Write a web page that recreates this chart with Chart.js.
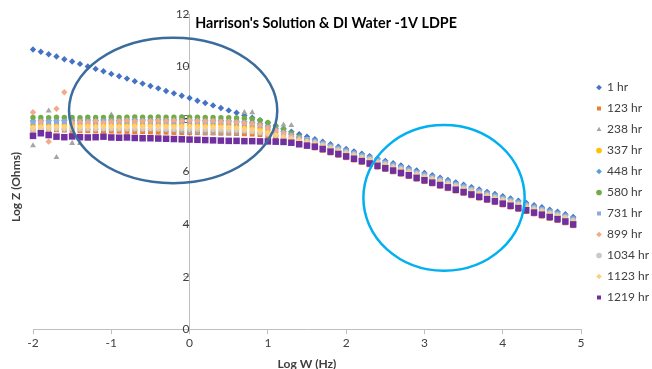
<!DOCTYPE html>
<html lang="en">
<head>
  <meta charset="UTF-8" />
  <title>Harrison's Solution &amp; DI Water -1V LDPE</title>
  <script src="https://cdn.jsdelivr.net/npm/chart.js"></script>
  <style>
    html, body { margin: 0; padding: 0; background: #fff; }
    .wrap { position: relative; width: 652px; height: 369px; }
  </style>
</head>
<body>
<div class="wrap"><canvas id="eisChart"></canvas></div>

<script>
  // log of frequency (x values shared by every series)
  const logW = [
    -2.0, -1.9, -1.8, -1.7, -1.6, -1.5, -1.4, -1.3, -1.2, -1.1,
    -1.0, -0.9, -0.8, -0.7, -0.6, -0.5, -0.4, -0.3, -0.2, -0.1,
     0.0,  0.1,  0.2,  0.3,  0.4,  0.5,  0.6,  0.7,  0.8,  0.9,
     1.0,  1.1,  1.2,  1.3,  1.4,  1.5,  1.6,  1.7,  1.8,  1.9,
     2.0,  2.1,  2.2,  2.3,  2.4,  2.5,  2.6,  2.7,  2.8,  2.9,
     3.0,  3.1,  3.2,  3.3,  3.4,  3.5,  3.6,  3.7,  3.8,  3.9,
     4.0,  4.1,  4.2,  4.3,  4.4,  4.5,  4.6,  4.7,  4.8,  4.9
  ];

  const hoursLabels = ['1 hr', '123 hr', '238 hr', '337 hr', '448 hr', '580 hr',
                       '731 hr', '899 hr', '1034 hr', '1123 hr', '1219 hr'];

  // log Z (Ohms) for each exposure time
  const z1hr = [
    10.65, 10.56, 10.47, 10.38, 10.28, 10.19, 10.10, 10.00, 9.91, 9.82,
    9.72, 9.63, 9.54, 9.44, 9.35, 9.26, 9.17, 9.07, 8.98, 8.89,
    8.80, 8.70, 8.61, 8.52, 8.42, 8.33, 8.24, 8.14, 8.05, 7.96,
    7.86, 7.74, 7.63, 7.52, 7.42, 7.33, 7.23, 7.14, 7.04, 6.95,
    6.86, 6.77, 6.68, 6.59, 6.50, 6.41, 6.32, 6.23, 6.14, 6.04,
    5.95, 5.86, 5.77, 5.68, 5.59, 5.50, 5.41, 5.32, 5.23, 5.15,
    5.06, 4.98, 4.89, 4.81, 4.72, 4.64, 4.55, 4.47, 4.38, 4.27
  ];
  const z123hr = [
    7.58, 7.60, 7.59, 7.59, 7.58, 7.57, 7.56, 7.56, 7.55, 7.55,
    7.54, 7.54, 7.53, 7.52, 7.52, 7.51, 7.50, 7.50, 7.49, 7.48,
    7.48, 7.48, 7.47, 7.47, 7.46, 7.46, 7.45, 7.44, 7.43, 7.41,
    7.37, 7.32, 7.24, 7.15, 7.06, 6.98, 6.90, 6.81, 6.71, 6.62,
    6.53, 6.44, 6.35, 6.26, 6.17, 6.08, 5.99, 5.90, 5.81, 5.71,
    5.62, 5.53, 5.44, 5.35, 5.26, 5.17, 5.08, 4.99, 4.90, 4.82,
    4.73, 4.65, 4.56, 4.48, 4.39, 4.30, 4.22, 4.14, 4.05, 3.94
  ];
  const z238hr = [
    6.99, 7.70, 8.31, 6.54, 7.68, 7.08, 7.08, 7.66, 7.67, 7.68,
    8.16, 7.66, 7.64, 7.62, 7.60, 7.62, 7.22, 7.56, 7.55, 7.52,
    7.50, 7.48, 7.47, 7.46, 7.47, 7.46, 7.45, 8.25, 8.25, 7.50,
    7.45, 7.40, 7.78, 7.76, 7.32, 7.21, 7.13, 7.04, 6.94, 6.85,
    6.76, 6.67, 6.58, 6.49, 6.40, 6.31, 6.22, 6.13, 6.04, 5.94,
    5.85, 5.76, 5.67, 5.58, 5.49, 5.40, 5.31, 5.22, 5.13, 5.05,
    4.96, 4.88, 4.79, 4.71, 4.62, 4.54, 4.45, 4.37, 4.28, 4.17
  ];
  const z337hr = [
    7.76, 7.78, 7.77, 7.78, 7.79, 7.78, 7.79, 7.78, 7.79, 7.79,
    7.80, 7.79, 7.80, 7.80, 7.79, 7.80, 7.80, 7.80, 7.79, 7.80,
    7.80, 7.79, 7.79, 7.78, 7.78, 7.77, 7.75, 7.72, 7.69, 7.64,
    7.56, 7.47, 7.37, 7.27, 7.17, 7.10, 7.03, 6.94, 6.84, 6.75,
    6.66, 6.57, 6.48, 6.39, 6.30, 6.21, 6.12, 6.03, 5.94, 5.84,
    5.75, 5.66, 5.57, 5.48, 5.39, 5.30, 5.21, 5.12, 5.03, 4.95,
    4.86, 4.78, 4.69, 4.61, 4.52, 4.44, 4.35, 4.27, 4.18, 4.07
  ];
  const z448hr = [
    7.93, 7.95, 7.94, 7.95, 7.95, 7.94, 7.95, 7.96, 7.95, 7.96,
    7.96, 7.95, 7.96, 7.97, 7.96, 7.96, 7.97, 7.96, 7.96, 7.97,
    7.96, 7.96, 7.95, 7.95, 7.94, 7.93, 7.92, 7.90, 7.87, 7.82,
    7.74, 7.64, 7.53, 7.42, 7.31, 7.24, 7.18, 7.09, 6.99, 6.90,
    6.81, 6.72, 6.63, 6.54, 6.45, 6.36, 6.27, 6.18, 6.09, 5.99,
    5.90, 5.81, 5.72, 5.63, 5.54, 5.45, 5.36, 5.27, 5.18, 5.10,
    5.01, 4.93, 4.84, 4.76, 4.67, 4.59, 4.50, 4.42, 4.33, 4.22
  ];
  const z580hr = [
    8.06, 8.06, 8.05, 8.07, 8.06, 8.06, 8.05, 8.07, 8.06, 8.06,
    8.07, 8.06, 8.07, 8.08, 8.07, 8.07, 8.08, 8.07, 8.07, 8.08,
    8.07, 8.07, 8.06, 8.06, 8.05, 8.05, 8.04, 8.03, 8.00, 7.95,
    7.86, 7.74, 7.60, 7.46, 7.33, 7.21, 7.11, 7.02, 6.92, 6.83,
    6.74, 6.65, 6.56, 6.47, 6.38, 6.29, 6.20, 6.11, 6.02, 5.92,
    5.83, 5.74, 5.65, 5.56, 5.47, 5.38, 5.29, 5.20, 5.11, 5.03,
    4.94, 4.86, 4.77, 4.69, 4.60, 4.52, 4.43, 4.35, 4.26, 4.15
  ];
  const z731hr = [
    7.88, 7.90, 7.89, 7.90, 7.91, 7.90, 7.90, 7.91, 7.90, 7.92,
    7.92, 7.91, 7.92, 7.93, 7.92, 7.92, 7.92, 7.92, 7.91, 7.92,
    7.92, 7.91, 7.90, 7.90, 7.89, 7.88, 7.86, 7.84, 7.81, 7.76,
    7.68, 7.58, 7.48, 7.38, 7.28, 7.22, 7.15, 7.06, 6.96, 6.87,
    6.78, 6.69, 6.60, 6.51, 6.42, 6.33, 6.24, 6.15, 6.06, 5.96,
    5.87, 5.78, 5.69, 5.60, 5.51, 5.42, 5.33, 5.24, 5.15, 5.07,
    4.98, 4.90, 4.81, 4.73, 4.64, 4.56, 4.47, 4.39, 4.30, 4.19
  ];
  const z899hr = [
    8.26, 7.90, 7.14, 8.39, 9.02, 7.85, 7.90, 7.88, 7.92, 7.87,
    7.90, 7.92, 7.95, 7.91, 7.93, 7.92, 7.94, 7.93, 7.95, 7.93,
    7.95, 7.93, 7.92, 7.93, 7.90, 7.90, 7.88, 7.85, 7.82, 7.76,
    7.67, 7.57, 7.46, 7.35, 7.25, 7.16, 7.08, 6.99, 6.89, 6.80,
    6.71, 6.62, 6.53, 6.44, 6.35, 6.26, 6.17, 6.08, 5.99, 5.89,
    5.80, 5.71, 5.62, 5.53, 5.44, 5.35, 5.26, 5.17, 5.08, 5.00,
    4.91, 4.83, 4.74, 4.66, 4.57, 4.49, 4.40, 4.32, 4.23, 4.12
  ];
  const z1034hr = [
    7.60, 7.63, 7.62, 7.63, 7.62, 7.63, 7.62, 7.63, 7.62, 7.63,
    7.63, 7.62, 7.63, 7.63, 7.62, 7.63, 7.62, 7.62, 7.61, 7.62,
    7.61, 7.61, 7.60, 7.60, 7.59, 7.58, 7.57, 7.55, 7.52, 7.48,
    7.43, 7.38, 7.32, 7.26, 7.20, 7.15, 7.10, 7.01, 6.91, 6.82,
    6.73, 6.64, 6.55, 6.46, 6.37, 6.28, 6.19, 6.10, 6.01, 5.91,
    5.82, 5.73, 5.64, 5.55, 5.46, 5.37, 5.28, 5.19, 5.10, 5.02,
    4.93, 4.85, 4.76, 4.68, 4.59, 4.51, 4.42, 4.34, 4.25, 4.14
  ];
  const z1123hr = [
    7.66, 7.70, 7.69, 7.70, 7.70, 7.69, 7.70, 7.71, 7.70, 7.71,
    7.71, 7.70, 7.71, 7.72, 7.71, 7.71, 7.71, 7.71, 7.70, 7.71,
    7.71, 7.70, 7.70, 7.69, 7.68, 7.67, 7.65, 7.62, 7.59, 7.54,
    7.47, 7.39, 7.30, 7.23, 7.18, 7.12, 7.05, 6.96, 6.86, 6.77,
    6.68, 6.59, 6.50, 6.41, 6.32, 6.23, 6.14, 6.05, 5.96, 5.86,
    5.77, 5.68, 5.59, 5.50, 5.41, 5.32, 5.23, 5.14, 5.05, 4.97,
    4.88, 4.80, 4.71, 4.63, 4.54, 4.46, 4.37, 4.29, 4.20, 4.09
  ];
  const z1219hr = [
    7.36, 7.46, 7.39, 7.33, 7.31, 7.34, 7.31, 7.30, 7.31, 7.33,
    7.30, 7.29, 7.30, 7.28, 7.27, 7.27, 7.26, 7.25, 7.24, 7.23,
    7.22, 7.21, 7.20, 7.19, 7.18, 7.17, 7.17, 7.16, 7.16, 7.15,
    7.15, 7.14, 7.13, 7.10, 7.04, 6.99, 6.95, 6.86, 6.76, 6.67,
    6.58, 6.49, 6.40, 6.31, 6.22, 6.13, 6.04, 5.95, 5.86, 5.76,
    5.67, 5.58, 5.49, 5.40, 5.31, 5.22, 5.13, 5.04, 4.95, 4.87,
    4.78, 4.70, 4.61, 4.53, 4.44, 4.36, 4.27, 4.19, 4.10, 3.99
  ];

  const yTicks = [0, 2, 4, 6, 8, 10, 12];
  const xTicks = [-2, -1, 0, 1, 2, 3, 4, 5];

  const FONT = 'Lato, "Open Sans", sans-serif';

  function toPoints(values) {
    return values.map((v, i) => ({ x: logW[i], y: v }));
  }

  // marker look per series, same order as hoursLabels
  const markers = [
    { color: '#4472C4', style: 'rectRot',  r: 3.2 },
    { color: '#ED7D31', style: 'rect',     r: 3.5 },
    { color: '#A5A5A5', style: 'triangle', r: 3.4 },
    { color: '#FFC000', style: 'circle',   r: 2.7 },
    { color: '#5B9BD5', style: 'rectRot',  r: 3.2 },
    { color: '#70AD47', style: 'circle',   r: 2.7 },
    { color: '#8EA9DB', style: 'rect',     r: 3.6 },
    { color: '#F4A989', style: 'rectRot',  r: 3.2 },
    { color: '#C9C9C9', style: 'circle',   r: 2.7 },
    { color: '#FFCF80', style: 'rectRot',  r: 3.2 },
    { color: '#7030A0', style: 'rect',     r: 4.6 }
  ];

  const allValues = [z1hr, z123hr, z238hr, z337hr, z448hr, z580hr,
                     z731hr, z899hr, z1034hr, z1123hr, z1219hr];

  const datasets = allValues.map((vals, i) => ({
    label: hoursLabels[i],
    data: toPoints(vals),
    showLine: false,
    pointStyle: markers[i].style,
    pointRadius: markers[i].r,
    pointBackgroundColor: markers[i].color,
    pointBorderColor: markers[i].color,
    pointBorderWidth: 0,
    backgroundColor: markers[i].color,
    borderColor: markers[i].color,
    order: allValues.length - i,   // later series drawn on top, like Excel
    clip: false
  }));

  // hand drawn ellipses + floating texts
  const overlay = {
    id: 'overlay',
    afterLayout(chart) {
      // nudge the legend column a little to the right
      chart.legend.left += 7;
      chart.legend.right += 7;
    },
    afterDatasetsDraw(chart) {
      const { ctx, scales: { x, y } } = chart;
      const rings = [
        { cx: -0.21, cy: 8.33, rx: 1.33, ry: 2.77, color: '#3A6C9C' },
        { cx: 3.25, cy: 5.0, rx: 1.03, ry: 2.77, color: '#00B0F0' }
      ];
      ctx.save();
      ctx.lineWidth = 2.5;
      rings.forEach(r => {
        const px = x.getPixelForValue(r.cx);
        const py = y.getPixelForValue(r.cy);
        const prx = Math.abs(x.getPixelForValue(r.cx + r.rx) - px);
        const pry = Math.abs(y.getPixelForValue(r.cy + r.ry) - py);
        ctx.strokeStyle = r.color;
        ctx.beginPath();
        ctx.ellipse(px, py, prx, pry, 0, 0, Math.PI * 2);
        ctx.stroke();
      });
      ctx.restore();
    },
    afterDraw(chart) {
      const { ctx } = chart;
      ctx.save();
      ctx.fillStyle = '#000';
      ctx.font = 'bold 14.3px ' + FONT;
      ctx.textAlign = 'center';
      ctx.textBaseline = 'middle';
      ctx.fillText("Harrison's Solution & DI Water -1V LDPE", 326, 23);

      ctx.fillStyle = '#404040';
      ctx.font = 'bold 12px ' + FONT;
      ctx.translate(16, 187);
      ctx.rotate(-Math.PI / 2);
      ctx.fillText('Log Z (Ohms)', 0, 0);
      ctx.restore();
    }
  };

  new Chart(document.getElementById('eisChart'), {
    type: 'scatter',
    data: { datasets },
    plugins: [overlay],
    options: {
      responsive: true,
      maintainAspectRatio: false,
      animation: false,
      devicePixelRatio: 1,
      layout: { padding: { left: 33, top: 14, right: 0, bottom: -2 } },
      plugins: {
        legend: {
          position: 'right',
          labels: {
            usePointStyle: true,
            boxWidth: 4,
            boxHeight: 4,
            padding: 9,
            color: '#404040',
            font: { family: FONT, size: 12 },
            sort: (a, b) => a.datasetIndex - b.datasetIndex
          }
        },
        tooltip: { enabled: false }
      },
      scales: {
        x: {
          type: 'linear',
          min: xTicks[0],
          max: xTicks[xTicks.length - 1],
          afterBuildTicks: axis => { axis.ticks = xTicks.map(v => ({ value: v })); },
          ticks: { color: '#404040', font: { family: FONT, size: 12 }, padding: 2 },
          grid: { drawOnChartArea: false, drawTicks: true, tickLength: 5, color: '#BFBFBF' },
          border: { color: '#BFBFBF', width: 1 },
          title: {
            display: true,
            text: 'Log W (Hz)',
            color: '#404040',
            font: { family: FONT, size: 12, weight: 'bold' },
            padding: { top: 4, bottom: 0 }
          }
        },
        y: {
          type: 'linear',
          min: yTicks[0],
          max: yTicks[yTicks.length - 1],
          position: { x: 0 },
          afterBuildTicks: axis => { axis.ticks = yTicks.map(v => ({ value: v })); },
          ticks: { color: '#404040', font: { family: FONT, size: 12 }, padding: 4 },
          grid: { drawOnChartArea: false, drawTicks: true, tickLength: 5, color: '#BFBFBF' },
          border: { color: '#BFBFBF', width: 1 }
        }
      }
    }
  });
</script>
</body>
</html>
